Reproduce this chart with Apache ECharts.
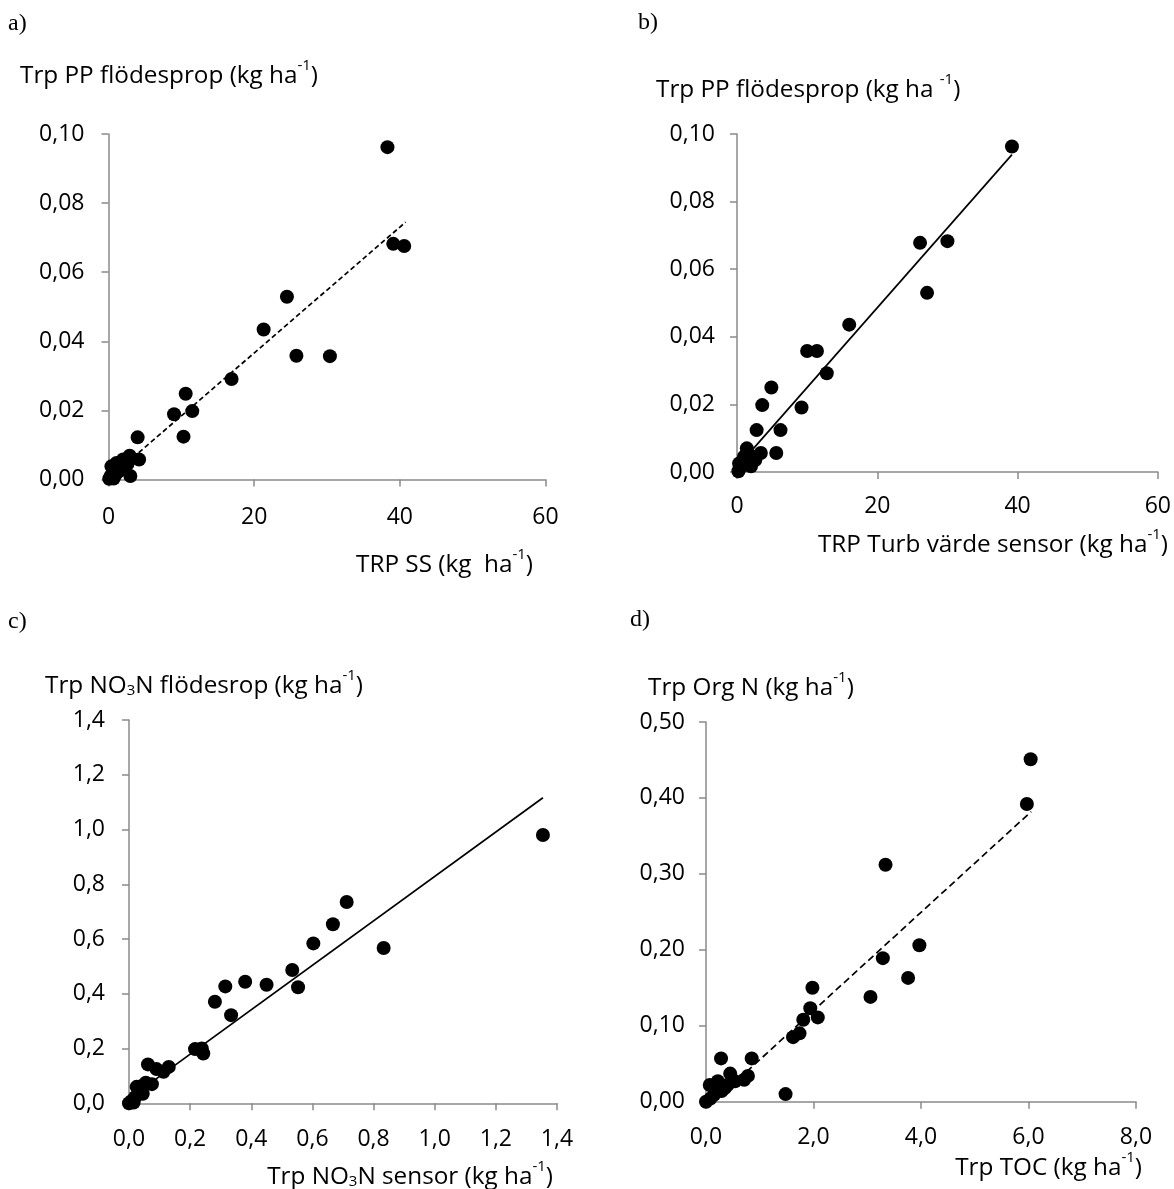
<!DOCTYPE html>
<html><head><meta charset="utf-8">
<script src="https://cdn.jsdelivr.net/npm/echarts@6/dist/echarts.min.js"></script>
<style>html,body{margin:0;padding:0;background:#fff}#c{width:1174px;height:1189px}</style>
</head><body><div id="c"></div>
<script>
// ---- data ----
const ptsA = [[38.3,0.0962],[39.1,0.0682],[40.6,0.0676],[24.5,0.0529],[21.3,0.0434],[25.8,0.0358],[30.4,0.0357],[16.9,0.0291],[10.6,0.0248],[11.5,0.0198],[9.0,0.0189],[10.3,0.0124],[4.0,0.0122],[4.2,0.0058],[2.9,0.0069],[2.0,0.0058],[1.1,0.0048],[0.4,0.0038],[3.0,0.0010],[0.1,0.0002],[0.7,0.0003],[1.5,0.0025],[2.3,0.0038],[1.0,0.0015],[2.6,0.0045],[0.3,0.0010]];
const trendA = [[0,0.0002],[40.8,0.0745]];
const ptsB = [[39.2,0.0963],[26.1,0.0678],[30.0,0.0683],[27.1,0.0530],[16.0,0.0436],[10.0,0.0358],[11.4,0.0358],[12.8,0.0292],[4.9,0.0250],[3.6,0.0198],[9.2,0.0191],[2.8,0.0124],[6.2,0.0124],[5.6,0.0056],[3.4,0.0056],[1.4,0.0070],[1.0,0.0045],[2.0,0.0017],[0.4,0.0011],[0.2,0.0002],[2.6,0.0035],[1.6,0.0033],[0.3,0.0025],[2.2,0.0045],[0.7,0.0030]];
const trendB = [[0.2,0.0019],[39.2,0.0939]];
const ptsC = [[1.354,0.980],[0.712,0.735],[0.667,0.654],[0.833,0.567],[0.603,0.584],[0.534,0.487],[0.553,0.424],[0.450,0.433],[0.380,0.444],[0.315,0.427],[0.281,0.371],[0.334,0.322],[0.216,0.198],[0.238,0.200],[0.243,0.182],[0.130,0.133],[0.113,0.115],[0.090,0.125],[0.062,0.142],[0.075,0.070],[0.055,0.075],[0.040,0.062],[0.025,0.060],[0.045,0.035],[0.020,0.022],[0.008,0.008],[0.0,0.0],[0.015,0.003]];
const trendC = [[0,0.017],[1.354,1.116]];
const ptsD = [[6.04,0.451],[5.97,0.392],[3.34,0.312],[3.97,0.206],[3.29,0.189],[3.76,0.163],[3.06,0.138],[1.98,0.150],[1.94,0.123],[2.08,0.111],[1.81,0.108],[1.74,0.090],[1.62,0.085],[1.48,0.010],[0.85,0.057],[0.28,0.057],[0.78,0.034],[0.71,0.029],[0.45,0.037],[0.54,0.027],[0.40,0.022],[0.22,0.027],[0.07,0.022],[0.29,0.014],[0.15,0.009],[0.0,0.0],[0.08,0.004],[0.35,0.018],[0.18,0.016]];
const trendD = [[0.3,0.010],[6.05,0.382]];

const xTicksA = {min:0,max:60,interval:20,dec:0};
const yTicksA = {min:0,max:0.10,interval:0.02,dec:2};
const xTicksC = {min:0,max:1.4,interval:0.2,dec:1};
const yTicksC = {min:0,max:1.4,interval:0.2,dec:1};
const xTicksD = {min:0,max:8,interval:2,dec:1};
const yTicksD = {min:0,max:0.5,interval:0.1,dec:2};

// ---- styling ----
const FONT = '"Open Sans", "Noto Sans", sans-serif';
const AX = '#8a8a8a';
function fmt(dec){ return v => Number(v).toFixed(dec).replace('.', ','); }
function axis(t, gi, margin){
  return {
    type:'value', gridIndex:gi, min:t.min, max:t.max, interval:t.interval,
    axisLine:{show:true, onZero:false, lineStyle:{color:AX, width:1.5}},
    axisTick:{show:true, inside:false, length:7, lineStyle:{color:AX, width:1.5}},
    splitLine:{show:false},
    axisLabel:{margin:margin, color:'#000', fontFamily:FONT, fontSize:23, formatter:fmt(t.dec)}
  };
}
const grids = [
  {left:108.5, top:134, width:437, height:345.5},
  {left:737, top:134, width:424, height:338},
  {left:129, top:720, width:428, height:383.3},
  {left:706, top:722, width:430, height:379.7}
];
const xAxes = [axis(xTicksA,0,26), axis(xTicksA,1,23), axis(xTicksC,2,25), axis(xTicksD,3,24)];
const yAxes = [axis(yTicksA,0,24), axis(yTicksA,1,22), axis(yTicksC,2,24), axis(yTicksD,3,21)];

function scatter(d,i){ return {type:'scatter', xAxisIndex:i, yAxisIndex:i, data:d, symbolSize:14, itemStyle:{color:'#000', opacity:1}, z:2}; }
function trend(d,i,dash){ return {type:'line', xAxisIndex:i, yAxisIndex:i, data:d, showSymbol:false, symbol:'none', lineStyle:{color:'#000', width:1.7, type:dash}, z:3}; }

const rich = {
  n:{fontFamily:FONT, fontSize:24.3, color:'#000', lineHeight:32, verticalAlign:'bottom'},
  s:{fontFamily:FONT, fontSize:15, color:'#000', lineHeight:32, verticalAlign:'top', padding:[2,0,0,0]},
  b:{fontFamily:FONT, fontSize:15, color:'#000', verticalAlign:'bottom', padding:[12,0,0,0]}
};
function label(text, x, y, align){
  return {type:'text', x:x, y:y, style:{text:text, rich:rich, textAlign:align||'left', textVerticalAlign:'middle', fill:'#000'}};
}
function letter(t, x, y){
  return {type:'text', x:x, y:y, style:{text:t, font:'24px "Liberation Serif", "DejaVu Serif", serif', fill:'#000', textVerticalAlign:'middle'}};
}

const graphics = [
  letter('a)', 8, 24), letter('b)', 638, 23), letter('c)', 8, 622), letter('d)', 630, 620),
  label('{n|Trp PP flödesprop (kg ha}{s|-1}{n|)}', 20, 72),
  label('{n|TRP SS (kg  ha}{s|-1}{n|)}', 533, 561, 'right'),
  label('{n|Trp PP flödesprop (kg ha }{s|-1}{n|)}', 656, 86),
  label('{n|TRP Turb värde sensor (kg ha}{s|-1}{n|)}', 1168, 541, 'right'),
  label('{n|Trp NO}{b|3}{n|N flödesrop (kg ha}{s|-1}{n|)}', 45, 682),
  label('{n|Trp NO}{b|3}{n|N sensor (kg ha}{s|-1}{n|)}', 553, 1173, 'right'),
  label('{n|Trp Org N (kg ha}{s|-1}{n|)}', 648, 684),
  label('{n|Trp TOC (kg ha}{s|-1}{n|)}', 1142, 1164, 'right')
];

const chart = echarts.init(document.getElementById('c'), null, {renderer:'canvas'});
chart.setOption({
  animation:false,
  backgroundColor:'#fff',
  grid:grids,
  xAxis:xAxes,
  yAxis:yAxes,
  series:[
    scatter(ptsA,0), trend(trendA,0,[5,3]),
    scatter(ptsB,1), trend(trendB,1,'solid'),
    scatter(ptsC,2), trend(trendC,2,'solid'),
    scatter(ptsD,3), trend(trendD,3,[7,4])
  ],
  graphic:graphics
});
</script></body></html>
